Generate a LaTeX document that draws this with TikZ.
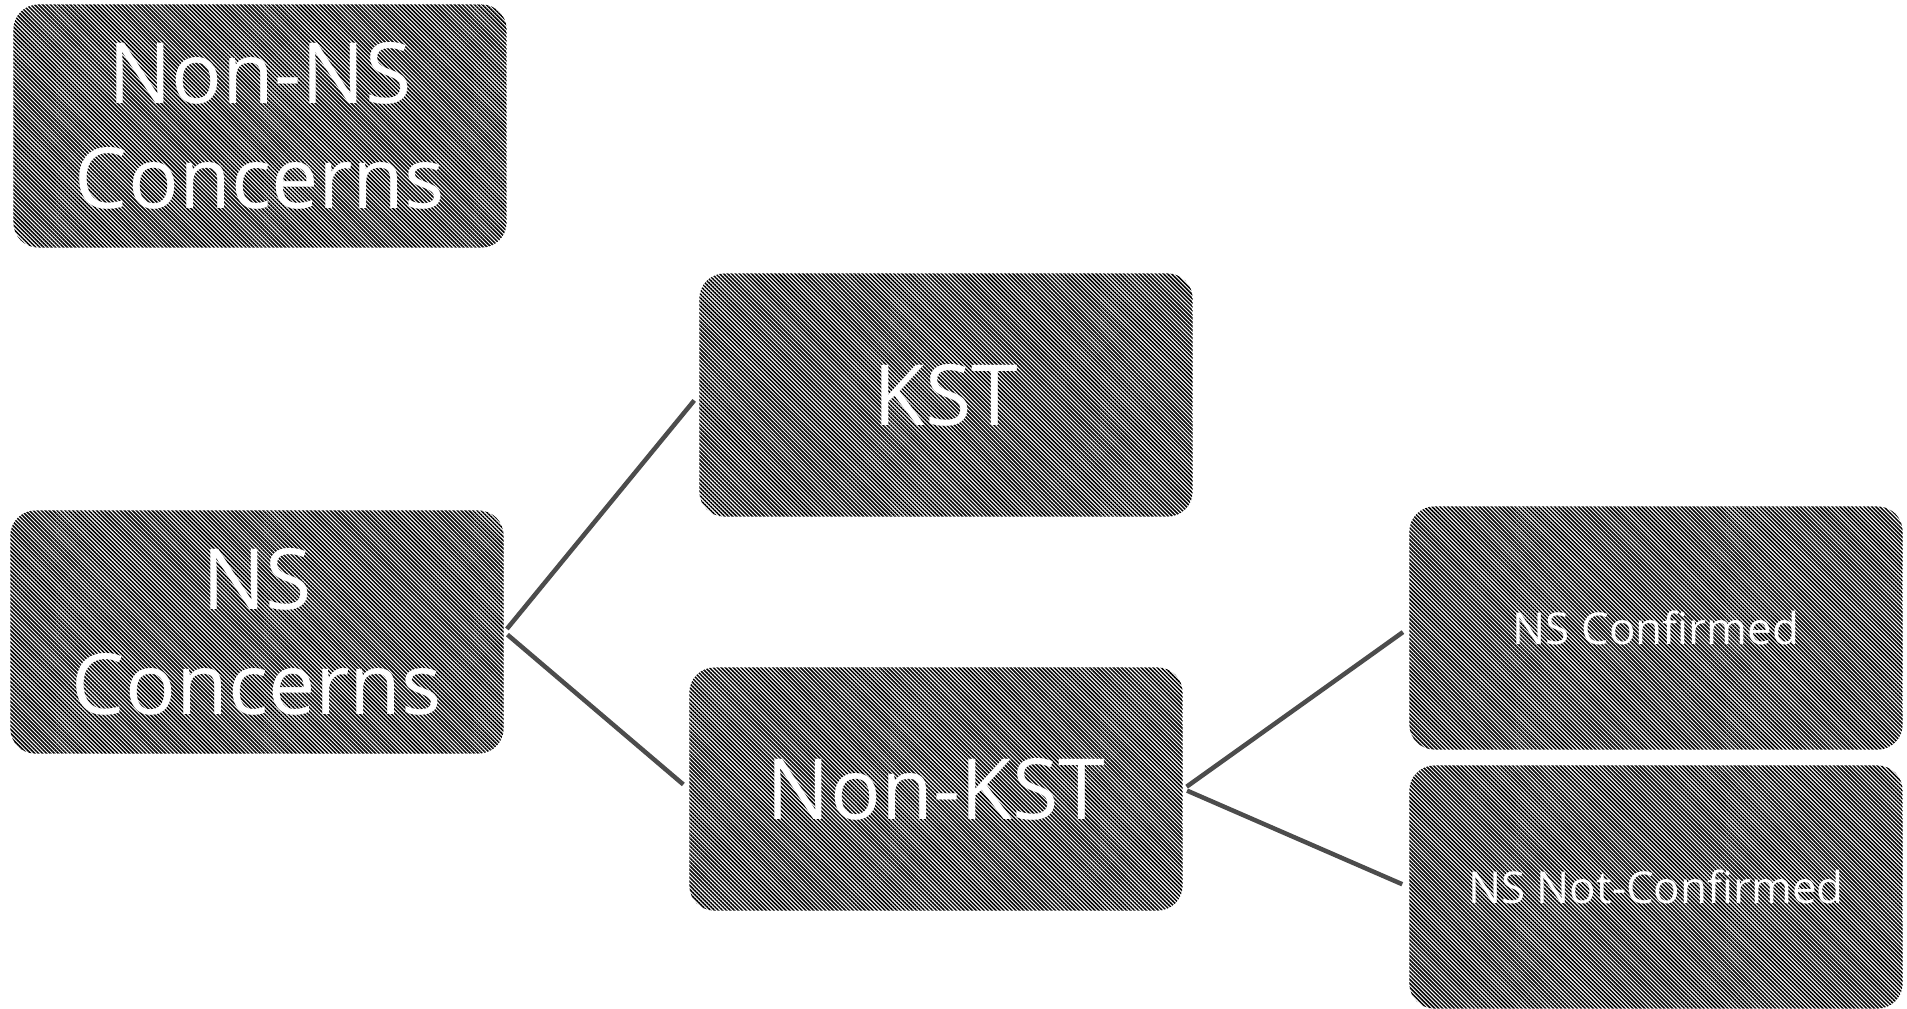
\documentclass[tikz,border=0pt]{standalone}
\usepackage{fontspec}
\setmainfont{Open Sans}
\usetikzlibrary{patterns.meta}

\tikzset{
  hatchbox/.style={rectangle, rounded corners=0.25cm, minimum width=4.93cm,
    minimum height=2.43cm, inner sep=0pt, align=center, text=white,
    pattern={Lines[angle=135,distance=0.028cm,line width=0.015cm]},
    pattern color=black},
  bigtext/.style={font=\fontsize{24}{30}\selectfont},
  smalltext/.style={font=\fontsize{12.5}{15}\selectfont},
  link/.style={draw=black!70, line width=0.045cm, shorten <=0.04cm, shorten >=0.07cm}
}

\begin{document}
\begin{tikzpicture}[x=0.01cm,y=-0.01cm]
  \useasboundingbox (0,0) rectangle (1907,1008);

  \node[hatchbox, bigtext] (nonns)   at (260,126)   {Non-NS\\Concerns};
  \node[hatchbox, bigtext] (ns)      at (257,632)   {NS\\Concerns};
  \node[hatchbox, bigtext] (kst)     at (946,395)   {KST};
  \node[hatchbox, bigtext] (nonkst)  at (936,789)   {Non-KST};
  \node[hatchbox, smalltext] (conf)    at (1656,628) {NS Confirmed};
  \node[hatchbox, smalltext] (notconf) at (1656,887) {NS Not-Confirmed};

  \draw[link] (ns.east) -- (kst.west);
  \draw[link] (ns.east) -- (nonkst.west);
  \draw[link] (nonkst.east) -- (conf.west);
  \draw[link] (nonkst.east) -- (notconf.west);
\end{tikzpicture}
\end{document}
